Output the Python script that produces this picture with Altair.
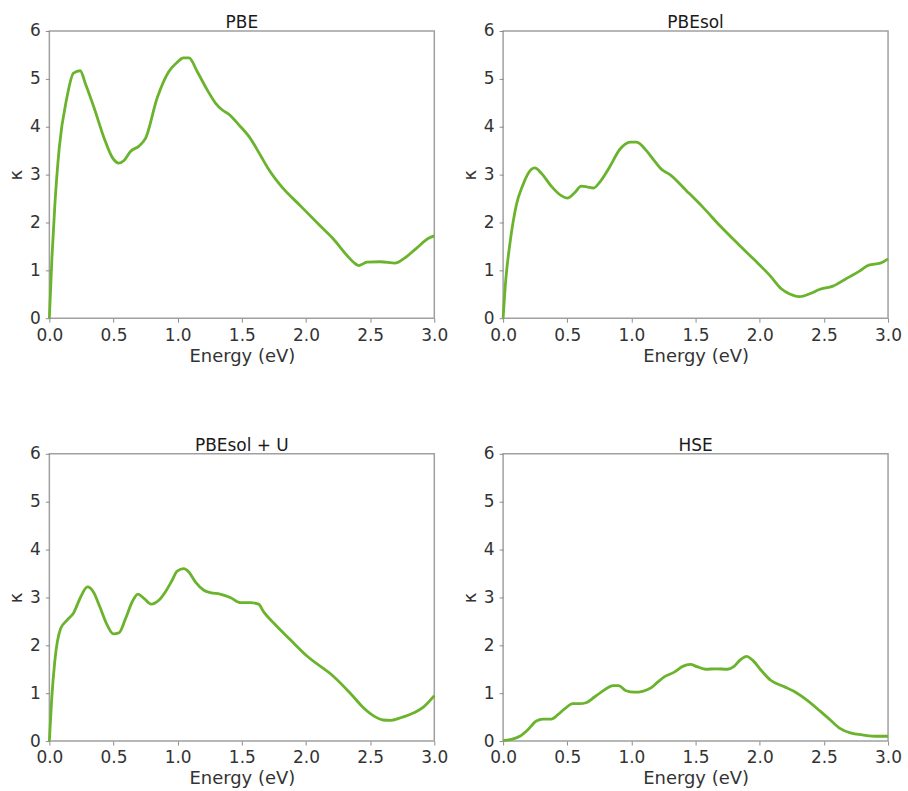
import altair as alt
import pandas as pd

# Extinction coefficient kappa vs photon energy for four functionals
pbe_e = [0.0, 0.02, 0.043, 0.077, 0.136, 0.188, 0.24, 0.284, 0.349, 0.427, 0.49, 0.54, 0.58,
         0.634, 0.70, 0.75, 0.84, 0.93, 0.998, 1.044, 1.088, 1.153, 1.23, 1.296, 1.348, 1.40,
         1.49, 1.555, 1.646, 1.70, 1.80, 1.956, 2.11, 2.215, 2.32, 2.37, 2.41, 2.475, 2.58,
         2.695, 2.76, 2.86, 2.955, 3.0]
pbe_k = [0.0, 1.26, 2.375, 3.56, 4.6, 5.12, 5.17, 4.875, 4.39, 3.76, 3.36, 3.24, 3.29,
         3.49, 3.6, 3.76, 4.6, 5.15, 5.35, 5.44, 5.44, 5.15, 4.77, 4.49, 4.35, 4.26,
         4.0, 3.8, 3.40, 3.15, 2.78, 2.35, 1.93, 1.65, 1.31, 1.17, 1.10, 1.17, 1.18,
         1.15, 1.24, 1.46, 1.67, 1.72]

pbesol_e = [0.0, 0.021, 0.052, 0.104, 0.155, 0.194, 0.246, 0.298, 0.375, 0.453, 0.50, 0.557,
            0.609, 0.66, 0.704, 0.758, 0.83, 0.91, 0.99, 1.04, 1.12, 1.17, 1.235, 1.30, 1.43,
            1.56, 1.69, 1.82, 1.95, 2.08, 2.17, 2.23, 2.31, 2.39, 2.465, 2.57, 2.67, 2.78,
            2.85, 2.94, 3.0]
pbesol_k = [0.0, 0.81, 1.54, 2.375, 2.79, 3.02, 3.14, 3.03, 2.76, 2.56, 2.51, 2.62,
            2.76, 2.74, 2.72, 2.86, 3.16, 3.53, 3.68, 3.68, 3.49, 3.32, 3.11, 3.0, 2.66,
            2.31, 1.93, 1.58, 1.24, 0.89, 0.61, 0.51, 0.45, 0.51, 0.60, 0.67, 0.82, 0.99,
            1.11, 1.15, 1.24]

pbesolu_e = [0.0, 0.018, 0.042, 0.088, 0.14, 0.187, 0.244, 0.296, 0.342, 0.394, 0.451, 0.498,
             0.542, 0.594, 0.646, 0.69, 0.737, 0.794, 0.853, 0.905, 0.957, 0.996, 1.048,
             1.087, 1.139, 1.204, 1.256, 1.33, 1.41, 1.49, 1.567, 1.63, 1.67, 1.75, 1.88,
             2.01, 2.215, 2.345, 2.45, 2.53, 2.60, 2.66, 2.73, 2.84, 2.915, 3.0]
pbesolu_k = [0.0, 0.87, 1.66, 2.35, 2.53, 2.67, 3.01, 3.22, 3.12, 2.80, 2.42, 2.24,
             2.26, 2.56, 2.91, 3.07, 2.98, 2.86, 2.94, 3.12, 3.36, 3.55, 3.60,
             3.53, 3.32, 3.15, 3.10, 3.07, 3.0, 2.89, 2.89, 2.86, 2.70, 2.46, 2.11,
             1.77, 1.35, 1.00, 0.69, 0.52, 0.44, 0.43, 0.48, 0.59, 0.71, 0.95]

hse_e = [0.0, 0.065, 0.13, 0.194, 0.259, 0.311, 0.375, 0.427, 0.479, 0.544, 0.596, 0.647,
         0.712, 0.79, 0.855, 0.90, 0.958, 1.023, 1.087, 1.152, 1.204, 1.256, 1.334, 1.40,
         1.458, 1.515, 1.58, 1.657, 1.748, 1.80, 1.85, 1.898, 1.94, 2.007, 2.085, 2.188,
         2.266, 2.37, 2.473, 2.55, 2.628, 2.706, 2.81, 2.913, 3.0]
hse_k = [0.01, 0.035, 0.10, 0.24, 0.42, 0.46, 0.46, 0.55, 0.67, 0.78, 0.78, 0.80,
         0.92, 1.07, 1.16, 1.16, 1.05, 1.02, 1.04, 1.11, 1.23, 1.34, 1.44, 1.56,
         1.60, 1.55, 1.50, 1.51, 1.50, 1.56, 1.70, 1.77, 1.70, 1.49, 1.27, 1.14,
         1.04, 0.85, 0.62, 0.44, 0.26, 0.17, 0.125, 0.10, 0.10]

x_ticks = [0.0, 0.5, 1.0, 1.5, 2.0, 2.5, 3.0]
y_ticks = [0, 1, 2, 3, 4, 5, 6]

FONT = "DejaVu Sans"
LINE_COLOR = "#6ab32c"


def panel(title, energies, kappas):
    df = pd.DataFrame({"energy": energies, "kappa": kappas})
    return (
        alt.Chart(df)
        .mark_line(color=LINE_COLOR, strokeWidth=2.8, interpolate="monotone")
        .encode(
            x=alt.X(
                "energy:Q",
                scale=alt.Scale(domain=[0, 3], nice=False, zero=False),
                axis=alt.Axis(values=x_ticks, format=".1f", title="Energy (eV)"),
            ),
            y=alt.Y(
                "kappa:Q",
                scale=alt.Scale(domain=[0, 6], nice=False),
                axis=alt.Axis(values=y_ticks, format="d", title="κ"),
            ),
        )
        .properties(
            width=386,
            height=288,
            title=alt.TitleParams(title, anchor="middle", offset=-10),
        )
    )


chart = (
    alt.concat(
        panel("PBE", pbe_e, pbe_k),
        panel("PBEsol", pbesol_e, pbesol_k),
        panel("PBEsol + U", pbesolu_e, pbesolu_k),
        panel("HSE", hse_e, hse_k),
        columns=2,
        spacing=alt.RowColnumber(row=136, column=69),
        bounds="flush",
    )
    .properties(padding={"left": 6.5, "top": 12, "right": 5, "bottom": 5}, background="white")
    .configure_view(stroke="#a0a0a0", strokeWidth=1.5)
    .configure_axis(
        domain=False,
        grid=False,
        ticks=True,
        tickColor="#8c8c8c",
        tickSize=4,
        tickWidth=1,
        labelFont=FONT,
        labelFontSize=17,
        labelColor="#333333",
        labelFlush=False,
        titleFont=FONT,
        titleFontSize=18,
        titleFontWeight="normal",
        titleColor="#333333",
    )
    .configure_axisX(labelPadding=5, titlePadding=4)
    .configure_axisY(labelPadding=5, titlePadding=4)
    .configure_title(font=FONT, fontSize=17, fontWeight="normal", color="#1a1a1a")
)

chart.save("out.html", embed_options={"renderer": "svg", "actions": False})
